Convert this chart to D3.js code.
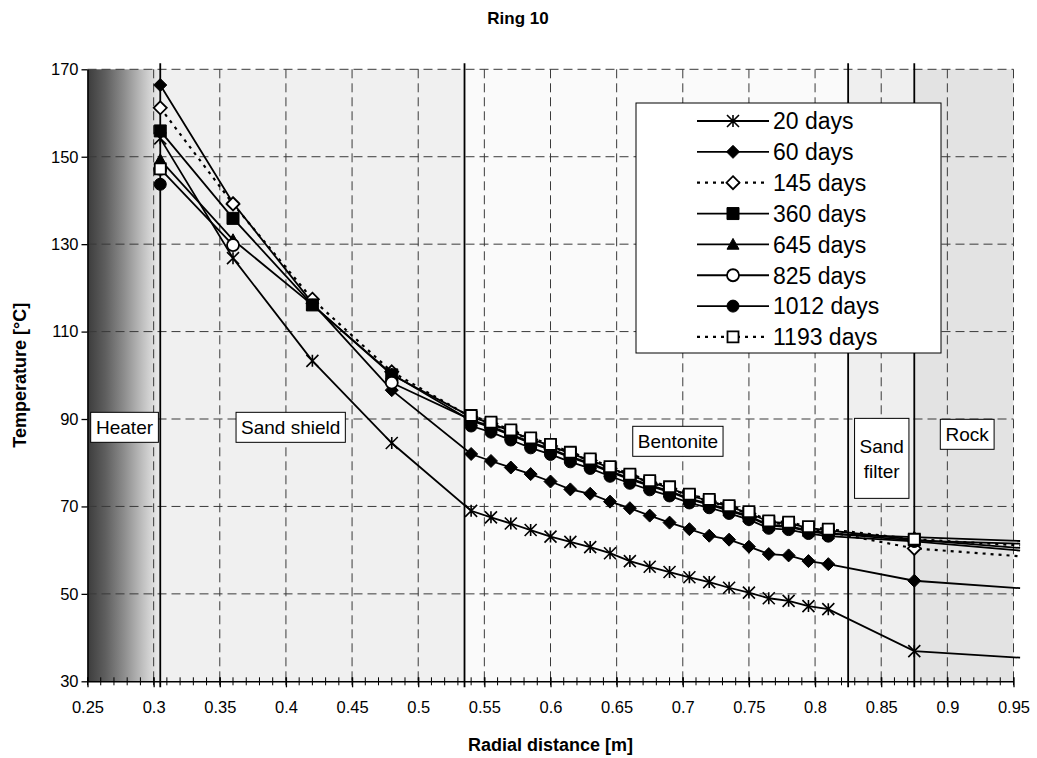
<!DOCTYPE html>
<html>
<head>
<meta charset="utf-8">
<script src="https://cdn.jsdelivr.net/npm/d3@7"></script>
<style>
  body { margin: 0; background: #fff; }
  text { font-family: Arial, "Liberation Sans", Helvetica, sans-serif; fill: #000; }
</style>
</head>
<body>
<svg id="chart" width="1037" height="758"></svg>
<script>
// Radial positions of the sensors [m]; the last column is the far-field value beyond the axis end
const radius = [0.305, 0.36, 0.42, 0.48,
  0.54, 0.555, 0.57, 0.585, 0.6, 0.615, 0.63, 0.645, 0.66, 0.675, 0.69, 0.705, 0.72, 0.735, 0.75, 0.765, 0.78, 0.795, 0.81,
  0.875, 0.955];

// Measured temperatures [°C] per time step (null = no reading)
const t20 = [154.2, 126.8, 103.3, 84.5,
  69.0, 67.5, 66.1, 64.6, 63.1, 61.9, 60.7, 59.3, 57.5, 56.2, 55.0, 53.8, 52.7, 51.4, 50.3, 49.0, 48.4, 47.2, 46.5,
  36.9, 35.4];
const t60 = [166.4, 139.4, 116.5, 96.6,
  82.0, 80.4, 78.9, 77.4, 75.7, 73.9, 72.9, 71.1, 69.6, 67.9, 66.3, 64.8, 63.3, 62.4, 60.8, 59.1, 58.8, 57.5, 56.8,
  53.0, 51.3];
const t145 = [161.2, 139.2, 117.4, 100.8,
  90.4, 88.9, 87.1, 85.3, 83.8, 82.0, 80.5, 78.7, 77.0, 75.5, 74.1, 72.4, 71.2, 69.8, 68.3, 66.3, 65.9, 64.9, 64.2,
  60.4, 58.6];
const t360 = [155.9, 135.9, 116.1, 100.1,
  90.5, 89.0, 87.2, 85.4, 83.9, 82.1, 80.6, 78.8, 77.1, 75.6, 74.2, 72.5, 71.3, 69.9, 68.5, 66.5, 66.1, 65.1, 64.5,
  62.4, 60.5];
const t645 = [149.3, 131.0, 116.1, 100.3,
  89.6, 88.1, 86.3, 84.5, 83.0, 81.2, 79.7, 77.9, 76.2, 74.7, 73.3, 71.6, 70.4, 69.0, 67.6, 65.6, 65.3, 64.3, 63.7,
  63.0, 62.1];
const t825 = [147.2, 129.8, null, 98.3,
  89.8, 88.3, 86.5, 84.7, 83.2, 81.4, 79.9, 78.1, 76.4, 74.9, 73.5, 71.8, 70.6, 69.2, 67.8, 65.8, 65.5, 64.5, 63.9,
  62.2, 61.5];
const t1012 = [143.7, null, null, null,
  88.4, 87.0, 85.2, 83.4, 81.9, 80.2, 78.7, 76.9, 75.3, 73.8, 72.4, 70.8, 69.7, 68.4, 67.0, 65.0, 64.7, 63.8, 63.2,
  62.0, 59.9];
const t1193 = [147.2, null, null, null,
  90.8, 89.3, 87.5, 85.7, 84.2, 82.4, 80.9, 79.1, 77.4, 75.9, 74.5, 72.8, 71.6, 70.2, 68.8, 66.7, 66.4, 65.4, 64.8,
  62.5, 61.1];

const seriesNames = ["20 days", "60 days", "145 days", "360 days", "645 days", "825 days", "1012 days", "1193 days"];
const seriesValues = [t20, t60, t145, t360, t645, t825, t1012, t1193];
const seriesMarkers = ["star", "diamond", "diamondOpen", "square", "triangle", "circleOpen", "circle", "squareOpen"];
const seriesDotted = [false, false, true, false, false, false, false, true];

// Material zones across the deposition hole
const zoneNames = ["Heater", "Sand shield", "Bentonite", "Sand filter", "Rock"];
const zoneEdges = [0.25, 0.305, 0.535, 0.825, 0.875, 0.95];

// Axis ticks
const xTicks = [0.25, 0.3, 0.35, 0.4, 0.45, 0.5, 0.55, 0.6, 0.65, 0.7, 0.75, 0.8, 0.85, 0.9, 0.95];
const xTickLabels = ["0.25", "0.3", "0.35", "0.4", "0.45", "0.5", "0.55", "0.6", "0.65", "0.7", "0.75", "0.8", "0.85", "0.9", "0.95"];
const yTicks = [30, 50, 70, 90, 110, 130, 150, 170];
const yTickLabels = ["30", "50", "70", "90", "110", "130", "150", "170"];

// Zone label anchors (data coordinates)
const zoneLabelAnchors = [
  { lines: ["Heater"], r: 0.278, t: 88.1 },
  { lines: ["Sand shield"], r: 0.4036, t: 88.1 },
  { lines: ["Bentonite"], r: 0.6963, t: 84.9 },
  { lines: ["Sand", "filter"], r: 0.8504, t: 81.0 },
  { lines: ["Rock"], r: 0.915, t: 86.5 }
];

// ---------------------------------------------------------------
const svg = d3.select("#chart");
const plot = { left: 87.5, right: 1013.5, top: 69.3, bottom: 681.3 };

const x = d3.scaleLinear().domain([0.25, 0.95]).range([plot.left, plot.right]);
const y = d3.scaleLinear().domain([30, 170]).range([plot.bottom, plot.top]);

svg.append("rect").attr("width", 1037).attr("height", 758).attr("fill", "#fff");

// Zone backgrounds
const defs = svg.append("defs");
const grad = defs.append("linearGradient").attr("id", "heaterFill")
  .attr("x1", "0%").attr("x2", "100%").attr("y1", "0%").attr("y2", "0%");
[["0%", "#3c3c3c"], ["25%", "#5f5f5f"], ["50%", "#8c8c8c"], ["75%", "#bebebe"], ["100%", "#eeeeee"]]
  .forEach(([o, c]) => grad.append("stop").attr("offset", o).attr("stop-color", c));

const zoneFills = ["url(#heaterFill)", "#f0f0f0", "#fafafa", "#efefef", "#e3e3e3"];
svg.append("g").selectAll("rect")
  .data(zoneNames)
  .join("rect")
  .attr("x", (d, i) => x(zoneEdges[i]))
  .attr("width", (d, i) => x(zoneEdges[i + 1]) - x(zoneEdges[i]))
  .attr("y", y(170))
  .attr("height", y(30) - y(170))
  .attr("fill", (d, i) => zoneFills[i]);

// Dashed grid
const grid = svg.append("g").attr("stroke", "#3a3a3a").attr("stroke-width", 1).attr("stroke-dasharray", "9,5");
grid.selectAll("line.h")
  .data(yTicks.filter(v => v > 30))
  .join("line")
  .attr("x1", plot.left).attr("x2", plot.right)
  .attr("y1", d => y(d)).attr("y2", d => y(d));
grid.selectAll("line.v")
  .data(xTicks.filter(v => v > 0.25))
  .join("line")
  .attr("y1", plot.top).attr("y2", plot.bottom)
  .attr("x1", d => x(d)).attr("x2", d => x(d));

// Zone boundaries
svg.append("g").selectAll("line")
  .data(zoneEdges.slice(1, -1))
  .join("line")
  .attr("x1", d => x(d)).attr("x2", d => x(d))
  .attr("y1", plot.top - 6).attr("y2", plot.bottom + 6)
  .attr("stroke", "#000").attr("stroke-width", 1.8);

// Axes
const xAxis = d3.axisBottom(x).tickValues(xTicks).tickSizeInner(6).tickSizeOuter(0).tickPadding(14)
  .tickFormat((d, i) => xTickLabels[i]);
const gx = svg.append("g").attr("transform", `translate(0,${plot.bottom})`).call(xAxis);
gx.selectAll(".tick line").attr("y1", -4).attr("y2", 6).attr("stroke-width", 1.3);
gx.select(".domain").attr("stroke-width", 1.5);
gx.selectAll(".tick text").attr("font-size", 16.5).attr("font-family", "Arial, 'Liberation Sans', sans-serif");

// Minor ticks every 0.01 m
svg.append("g").selectAll("line")
  .data(d3.range(25, 96).map(v => v / 100))
  .join("line")
  .attr("x1", d => x(d)).attr("x2", d => x(d))
  .attr("y1", plot.bottom - 4).attr("y2", plot.bottom + 4)
  .attr("stroke", "#000").attr("stroke-width", 1);

const yAxis = d3.axisLeft(y).tickValues(yTicks).tickSizeInner(6).tickSizeOuter(0).tickPadding(3)
  .tickFormat((d, i) => yTickLabels[i]);
const gy = svg.append("g").attr("transform", `translate(${plot.left},0)`).call(yAxis);
gy.select(".domain").attr("stroke-width", 1.5);
gy.selectAll(".tick line").attr("stroke-width", 1.3);
gy.selectAll(".tick text").attr("font-size", 16.5).attr("font-family", "Arial, 'Liberation Sans', sans-serif");

// Titles
svg.append("text").attr("x", 518).attr("y", 24).attr("text-anchor", "middle")
  .attr("font-size", 17).attr("font-weight", "bold").text("Ring 10");
svg.append("text").attr("x", (plot.left + plot.right) / 2).attr("y", 751).attr("text-anchor", "middle")
  .attr("font-size", 18).attr("font-weight", "bold").text("Radial distance [m]");
svg.append("text").attr("transform", `translate(26,${(plot.top + plot.bottom) / 2}) rotate(-90)`)
  .attr("text-anchor", "middle").attr("font-size", 18).attr("font-weight", "bold").text("Temperature [°C]");

// Marker shapes
function markerPath(type) {
  const h = 6;
  switch (type) {
    case "star": return `M0,${-h}L0,${h}M${-h},${-h}L${h},${h}M${-h},${h}L${h},${-h}`;
    case "diamond":
    case "diamondOpen": return `M0,${-h - 0.5}L${h + 0.5},0L0,${h + 0.5}L${-h - 0.5},0Z`;
    case "square": return `M${-h},${-h}H${h}V${h}H${-h}Z`;
    case "squareOpen": return `M${-h + 0.5},${-h + 0.5}H${h - 0.5}V${h - 0.5}H${-h + 0.5}Z`;
    case "triangle": return `M0,${-h}L${h},${h * 0.8}L${-h},${h * 0.8}Z`;
    default: return d3.symbol(d3.symbolCircle, Math.PI * 36)();
  }
}
function styleMarker(sel, type) {
  const open = type.endsWith("Open");
  if (type === "star") {
    sel.attr("fill", "none").attr("stroke", "#000").attr("stroke-width", 1.6);
  } else if (open) {
    sel.attr("fill", "#fff").attr("stroke", "#000").attr("stroke-width", 1.8);
  } else {
    sel.attr("fill", "#000").attr("stroke", "#000").attr("stroke-width", 1);
  }
}

const line = d3.line()
  .defined(d => d.t !== null)
  .x(d => x(d.r))
  .y(d => y(d.t));

const seriesG = svg.append("g");
seriesValues.forEach((vals, s) => {
  const pts = radius.map((r, i) => ({ r, t: vals[i] }));
  const g = seriesG.append("g");
  g.append("path")
    .attr("d", line(pts))
    .attr("fill", "none")
    .attr("stroke", "#000")
    .attr("stroke-width", seriesDotted[s] ? 2.2 : 1.8)
    .attr("stroke-dasharray", seriesDotted[s] ? "3,5" : null);
  g.selectAll("path.m")
    .data(pts.filter(d => d.t !== null && d.r <= 0.95))
    .join("path")
    .attr("class", "m")
    .attr("transform", d => `translate(${x(d.r)},${y(d.t)})`)
    .attr("d", markerPath(seriesMarkers[s]))
    .call(styleMarker, seriesMarkers[s]);
});

// Zone labels in boxes
const zl = svg.append("g");
zoneLabelAnchors.forEach(a => {
  const cx = x(a.r), cy = y(a.t);
  const lh = 25;
  const g = zl.append("g");
  const box = g.append("rect").attr("fill", "#fff").attr("stroke", "#000").attr("stroke-width", 1);
  const txt = g.append("text").attr("text-anchor", "middle").attr("font-size", 19);
  a.lines.forEach((ln, i) => {
    txt.append("tspan").attr("x", cx)
      .attr("y", cy + (i - (a.lines.length - 1) / 2) * lh)
      .attr("dy", "0.35em").text(ln);
  });
  const bb = txt.node().getBBox();
  const w = bb.width + 10;
  const hgt = a.lines.length > 1 ? 80 : 30;
  box.attr("x", cx - w / 2).attr("y", cy - hgt / 2).attr("width", w).attr("height", hgt);
});

// Legend
const legend = svg.append("g");
legend.append("rect").attr("x", 636).attr("y", 103).attr("width", 305).attr("height", 250)
  .attr("fill", "#fff").attr("stroke", "#000").attr("stroke-width", 1);
seriesNames.forEach((name, s) => {
  const ly = 121 + s * 30.85;
  const g = legend.append("g");
  g.append("line").attr("x1", 697).attr("x2", 769).attr("y1", ly).attr("y2", ly)
    .attr("stroke", "#000").attr("stroke-width", seriesDotted[s] ? 2.2 : 1.8)
    .attr("stroke-dasharray", seriesDotted[s] ? "3,5" : null);
  g.append("path").attr("transform", `translate(733,${ly})`).attr("d", markerPath(seriesMarkers[s]))
    .call(styleMarker, seriesMarkers[s]);
  g.append("text").attr("x", 773).attr("y", ly).attr("dy", "0.36em").attr("font-size", 23).text(name);
});
</script>
</body>
</html>
